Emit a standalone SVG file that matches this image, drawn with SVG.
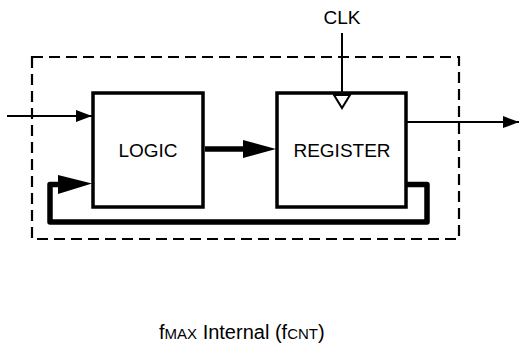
<svg xmlns="http://www.w3.org/2000/svg" width="519" height="345" viewBox="0 0 519 345">
<style>
.box{fill:#fff;stroke:#000;stroke-width:3.5}
.lbl{font-family:"Liberation Sans",Arial,sans-serif;font-size:19px;fill:#000;text-anchor:middle}
.thin{fill:none;stroke:#000;stroke-width:2}
.thick{fill:none;stroke:#000;stroke-width:5.5;stroke-linejoin:round}
</style>
<defs>
<marker id="ah" markerUnits="userSpaceOnUse" markerWidth="16" markerHeight="12" refX="16" refY="6" orient="auto"><path d="M0,0 L16,6 L0,12 Z" fill="#000"/></marker>
</defs>
<rect id="boundary" x="32" y="57" width="427" height="182" fill="none" stroke="#000" stroke-width="2.2" stroke-dasharray="11,6"/>
<g id="logic">
<rect class="box" x="93" y="93" width="110" height="114"/>
<text class="lbl" x="148" y="157">LOGIC</text>
</g>
<g id="register">
<rect class="box" x="277" y="93" width="129" height="114"/>
<text class="lbl" x="342" y="157">REGISTER</text>
<path d="M334,95 L350,95 L342,108 Z" fill="#fff" stroke="#000" stroke-width="2"/>
</g>
<g id="clk">
<text class="lbl" x="342" y="24">CLK</text>
</g>
<g id="connectors">
<line class="thin" x1="7" y1="116" x2="92" y2="116" marker-end="url(#ah)"/>
<line class="thin" x1="406" y1="122" x2="519" y2="122" marker-end="url(#ah)"/>
<line class="thin" x1="342" y1="33" x2="342" y2="94"/>
<line class="thick" x1="205" y1="149" x2="244" y2="149"/>
<path d="M243,140 L276,149 L243,158 Z" fill="#000"/>
<path class="thick" d="M406,184.5 L427,184.5 L427,222 L50,222 L50,184.5 L62,184.5"/>
<path d="M58,175 L92,183.5 L58,194 Z" fill="#000"/>
</g>
<text x="159" y="339" font-family="'Liberation Sans',Arial,sans-serif" font-size="20" fill="#000">f<tspan font-size="15">MAX</tspan> Internal (f<tspan font-size="15">CNT</tspan>)</text>
</svg>
